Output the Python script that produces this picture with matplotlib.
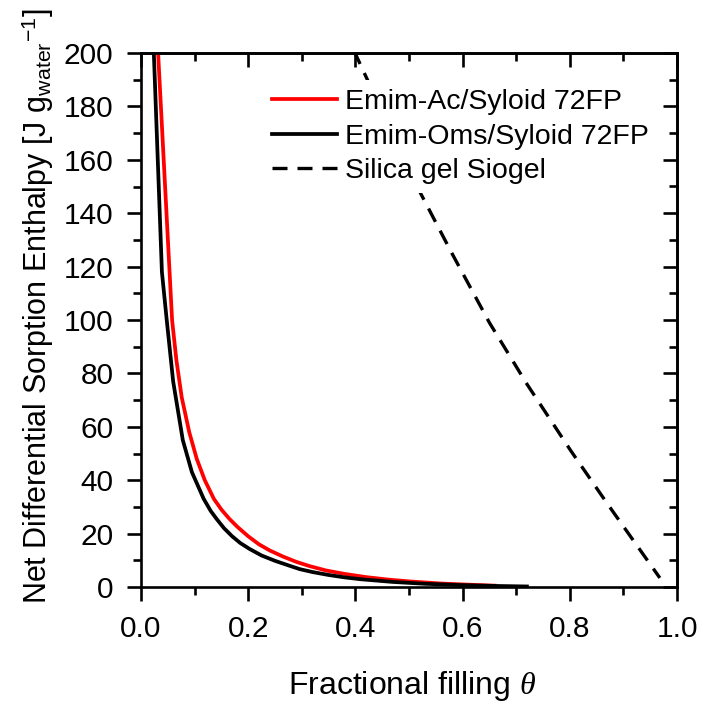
import matplotlib
matplotlib.use("Agg")
import matplotlib.pyplot as plt
from matplotlib.ticker import MultipleLocator, FormatStrFormatter

plt.rcParams['font.family'] = ['Liberation Sans', 'DejaVu Sans']
plt.rcParams['mathtext.fontset'] = 'custom'
plt.rcParams['mathtext.rm'] = 'Liberation Sans'
plt.rcParams['mathtext.it'] = 'Liberation Serif:italic'
plt.rcParams['mathtext.bf'] = 'Liberation Sans:bold'

# Emim-Ac/Syloid 72FP (red)
theta_ac = [0.028, 0.058, 0.066, 0.076, 0.090, 0.104, 0.119, 0.136, 0.150, 0.165,
            0.180, 0.200, 0.220, 0.240, 0.265, 0.290, 0.315, 0.345, 0.38, 0.42,
            0.46, 0.50, 0.56, 0.62, 0.66]
h_ac = [215, 100, 85, 71, 58, 48, 40, 33, 29, 25.5,
        22.5, 19, 16, 13.7, 11.4, 9.4, 7.8, 6.2, 4.9, 3.7,
        2.8, 2.1, 1.3, 0.8, 0.5]

# Emim-Oms/Syloid 72FP (black)
theta_oms = [0.021, 0.039, 0.048, 0.060, 0.078, 0.095, 0.117, 0.130, 0.141, 0.155,
             0.170, 0.185, 0.203, 0.225, 0.25, 0.275, 0.296, 0.32, 0.35, 0.38,
             0.41, 0.47, 0.53, 0.60, 0.66, 0.72]
h_oms = [216, 118, 100, 77, 55, 43, 33, 28.5, 25.5, 22,
         19, 16.5, 14.2, 11.8, 9.8, 8.1, 6.7, 5.6, 4.5, 3.6,
         2.9, 1.9, 1.2, 0.7, 0.4, 0.2]

# Silica gel Siogel (dashed)
theta_sg = [0.397, 0.45, 0.515, 0.58, 0.65, 0.72, 0.802, 0.869, 0.968]
h_sg = [201, 178, 150, 125, 99, 76, 51, 31.5, 3.4]

labels = ["Emim-Ac/Syloid 72FP", "Emim-Oms/Syloid 72FP", "Silica gel Siogel"]

fig = plt.figure(figsize=(7.02, 7.02), dpi=100)
ax = fig.add_axes([141/702, 1-587/702, (677-141)/702, (587-53)/702])

ax.plot(theta_ac, h_ac, color='#ff0000', lw=2.7, label=labels[0])
ax.plot(theta_oms, h_oms, color='black', lw=2.7, label=labels[1])
ax.plot(theta_sg, h_sg, color='black', lw=2.4, dashes=(4.5, 3), label=labels[2])

ax.set_xlim(0, 1.0)
ax.set_ylim(0, 200)
ax.xaxis.set_major_locator(MultipleLocator(0.2))
ax.xaxis.set_minor_locator(MultipleLocator(0.1))
ax.yaxis.set_major_locator(MultipleLocator(20))
ax.yaxis.set_minor_locator(MultipleLocator(10))
ax.xaxis.set_major_formatter(FormatStrFormatter('%.1f'))

SW = 1.9
for s in ax.spines.values():
    s.set_linewidth(SW)

ax.tick_params(axis='both', which='major', length=10.3, width=SW, labelsize=21.5)
ax.tick_params(axis='both', which='minor', length=5.5, width=SW)
ax.tick_params(axis='x', which='both', direction='out', pad=10)
ax.tick_params(axis='y', which='both', direction='out', pad=9.5)

# inward ticks on top and right
axt = ax.secondary_xaxis('top')
axt.xaxis.set_major_locator(MultipleLocator(0.2))
axt.xaxis.set_minor_locator(MultipleLocator(0.1))
axt.tick_params(which='major', direction='in', length=10.3, width=SW, labeltop=False)
axt.tick_params(which='minor', direction='in', length=5.5, width=SW)
axt.spines['top'].set_linewidth(SW)
axr = ax.secondary_yaxis('right')
axr.yaxis.set_major_locator(MultipleLocator(20))
axr.yaxis.set_minor_locator(MultipleLocator(10))
axr.tick_params(which='major', direction='in', length=10.3, width=SW, labelright=False)
axr.tick_params(which='minor', direction='in', length=5.5, width=SW)
axr.spines['right'].set_linewidth(SW)

ax.set_xlabel(r'Fractional filling $\theta$', fontsize=23)
ax.xaxis.set_label_coords(0.5056, (587 - 669) / 534)
ax.set_ylabel(r'Net Differential Sorption Enthalpy [J g$_{\mathrm{water}}$$^{-1}$]',
              fontsize=22)
ax.yaxis.set_label_coords((56.4 - 141) / 536, 0.525)

leg = ax.legend(loc='upper left', bbox_to_anchor=(0.228, 0.949), borderaxespad=0,
                fontsize=20.5, frameon=True, fancybox=False, borderpad=0.3,
                handlelength=2.28, handletextpad=0.3, labelspacing=0.31)
leg.get_frame().set_facecolor('white')
leg.get_frame().set_edgecolor('none')
leg.get_frame().set_alpha(1)

fig.savefig('out.png', dpi=100)
